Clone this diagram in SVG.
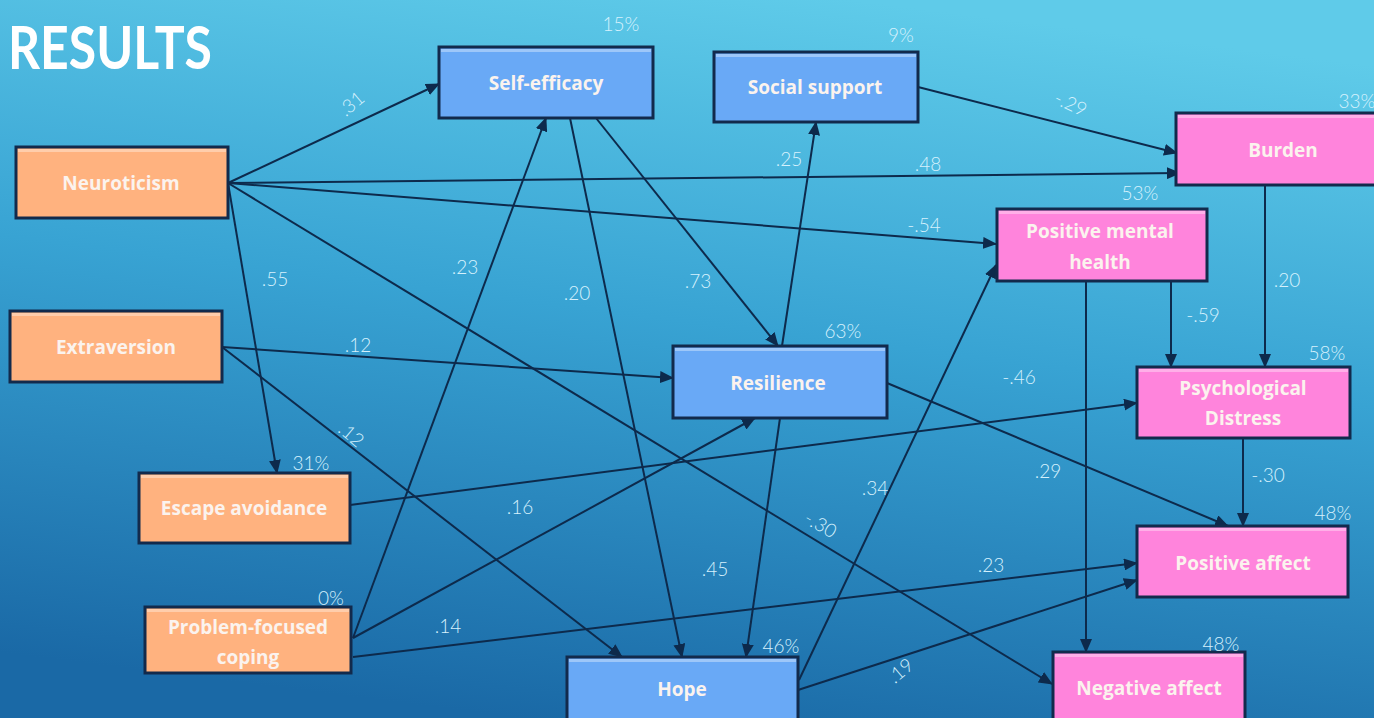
<svg xmlns="http://www.w3.org/2000/svg" width="1374" height="718" viewBox="0 0 1374 718">
<defs>
<linearGradient id="bg" x1="0.62" y1="0" x2="0.38" y2="1">
<stop offset="0" stop-color="#5fcbe9"/>
<stop offset="0.45" stop-color="#38a3d3"/>
<stop offset="1" stop-color="#1a69a6"/>
</linearGradient>
<marker id="ah" markerUnits="userSpaceOnUse" markerWidth="14" markerHeight="12" refX="13" refY="6" orient="auto">
<path d="M0,0 L14,6 L0,12 z" fill="#0d2a4c"/>
</marker>
<style>
.box{stroke:#122a4c;stroke-width:3}
.or{fill:#ffb27f}
.bl{fill:#69a9f6}
.pk{fill:#ff84dc}
.hl{fill:#ffffff;opacity:0.35}
.nt{font-family:"Open Sans","Liberation Sans",sans-serif;font-weight:bold;font-size:19px;fill:#fbf3ee;text-anchor:middle;dominant-baseline:central}
.el{font-family:Lato,"Open Sans","Liberation Sans",sans-serif;font-weight:300;font-size:19px;fill:#d6f1fd;text-anchor:middle;dominant-baseline:central}
.cn path{fill:none;stroke:#0d2a4c;stroke-width:2;marker-end:url(#ah)}
</style>
</defs>
<rect width="1374" height="718" fill="url(#bg)"/>
<text x="8" y="69" font-family="Lato,'Open Sans',sans-serif" font-weight="bold" font-size="60" fill="#ffffff" textLength="204" lengthAdjust="spacingAndGlyphs">RESULTS</text>

<g id="connectors" class="cn">
<path d="M228,183 L439,84"/>
<path d="M228,183 L1180,173"/>
<path d="M228,183 L996,244"/>
<path d="M228,183 L277,473"/>
<path d="M228,183 L1052,684"/>
<path d="M222,347 L673,378"/>
<path d="M222,347 L622,657"/>
<path d="M350,505 L1137,403"/>
<path d="M353,638 L546,118"/>
<path d="M353,638 L755,418"/>
<path d="M353,657 L1137,563"/>
<path d="M570,118 L682,657"/>
<path d="M596,118 L778,346"/>
<path d="M782,346 L816,122"/>
<path d="M918,87 L1177,153"/>
<path d="M780,418 L746,657"/>
<path d="M887,383 L1228,526"/>
<path d="M799,680 L996,265"/>
<path d="M798,690 L1137,580"/>
<path d="M1086,281 L1086,652"/>
<path d="M1171,281 L1171,367"/>
<path d="M1265,185 L1265,367"/>
<path d="M1243,438 L1243,526"/>
</g>

<g id="edge-labels">
<text class="el" x="351" y="103" transform="rotate(-40 351 103)">.31</text>
<text class="el" x="928" y="163">.48</text>
<text class="el" x="924" y="224">-.54</text>
<text class="el" x="275" y="278">.55</text>
<text class="el" x="821" y="524" transform="rotate(30 821 524)">-.30</text>
<text class="el" x="358" y="344">.12</text>
<text class="el" x="352" y="434" transform="rotate(40 352 434)">.12</text>
<text class="el" x="1019" y="376">-.46</text>
<text class="el" x="465" y="266">.23</text>
<text class="el" x="520" y="506">.16</text>
<text class="el" x="448" y="625">.14</text>
<text class="el" x="991" y="564">.23</text>
<text class="el" x="577" y="292">.20</text>
<text class="el" x="698" y="280">.73</text>
<text class="el" x="789" y="158">.25</text>
<text class="el" x="1071" y="103" transform="rotate(25 1071 103)">-.29</text>
<text class="el" x="715" y="568">.45</text>
<text class="el" x="1048" y="470">.29</text>
<text class="el" x="875" y="487">.34</text>
<text class="el" x="900" y="670" transform="rotate(-40 900 670)">.19</text>
<text class="el" x="1203" y="314">-.59</text>
<text class="el" x="1287" y="279">.20</text>
<text class="el" x="1268" y="474">-.30</text>
</g>

<g id="neuroticism">
<rect class="box or" x="16" y="147" width="212" height="71"/>
<rect class="hl" x="18" y="149" width="208" height="3"/>
<text class="nt" x="121" y="183">Neuroticism</text>
</g>
<g id="extraversion">
<rect class="box or" x="10" y="311" width="212" height="71"/>
<rect class="hl" x="12" y="313" width="208" height="3"/>
<text class="nt" x="116" y="347">Extraversion</text>
</g>
<g id="escape-avoidance">
<rect class="box or" x="139" y="473" width="211" height="70"/>
<rect class="hl" x="141" y="475" width="207" height="3"/>
<text class="nt" x="244" y="508">Escape avoidance</text>
<text class="el" x="311" y="462">31%</text>
</g>
<g id="problem-focused-coping">
<rect class="box or" x="145" y="607" width="206" height="66"/>
<rect class="hl" x="147" y="609" width="202" height="3"/>
<text class="nt" x="248" y="627">Problem-focused</text>
<text class="nt" x="248" y="657">coping</text>
<text class="el" x="331" y="597">0%</text>
</g>
<g id="self-efficacy">
<rect class="box bl" x="439" y="47" width="214" height="71"/>
<rect class="hl" x="441" y="49" width="210" height="3"/>
<text class="nt" x="546" y="83">Self-efficacy</text>
<text class="el" x="621" y="23">15%</text>
</g>
<g id="social-support">
<rect class="box bl" x="714" y="52" width="204" height="70"/>
<rect class="hl" x="716" y="54" width="200" height="3"/>
<text class="nt" x="815" y="87">Social support</text>
<text class="el" x="901" y="34">9%</text>
</g>
<g id="resilience">
<rect class="box bl" x="673" y="346" width="214" height="72"/>
<rect class="hl" x="675" y="348" width="210" height="3"/>
<text class="nt" x="778" y="383">Resilience</text>
<text class="el" x="843" y="330">63%</text>
</g>
<g id="hope">
<rect class="box bl" x="567" y="657" width="231" height="80"/>
<rect class="hl" x="569" y="659" width="227" height="3"/>
<text class="nt" x="682" y="689">Hope</text>
<text class="el" x="781" y="645">46%</text>
</g>
<g id="burden">
<rect class="box pk" x="1176" y="113" width="214" height="72"/>
<rect class="hl" x="1178" y="115" width="210" height="3"/>
<text class="nt" x="1283" y="150">Burden</text>
<text class="el" x="1357" y="100">33%</text>
</g>
<g id="positive-mental-health">
<rect class="box pk" x="997" y="209" width="210" height="72"/>
<rect class="hl" x="999" y="211" width="206" height="3"/>
<text class="nt" x="1100" y="231">Positive mental</text>
<text class="nt" x="1100" y="262">health</text>
<text class="el" x="1140" y="192">53%</text>
</g>
<g id="psychological-distress">
<rect class="box pk" x="1137" y="367" width="213" height="71"/>
<rect class="hl" x="1139" y="369" width="209" height="3"/>
<text class="nt" x="1243" y="388">Psychological</text>
<text class="nt" x="1243" y="418">Distress</text>
<text class="el" x="1327" y="352">58%</text>
</g>
<g id="positive-affect">
<rect class="box pk" x="1137" y="526" width="211" height="71"/>
<rect class="hl" x="1139" y="528" width="207" height="3"/>
<text class="nt" x="1243" y="563">Positive affect</text>
<text class="el" x="1333" y="512">48%</text>
</g>
<g id="negative-affect">
<rect class="box pk" x="1053" y="652" width="192" height="80"/>
<rect class="hl" x="1055" y="654" width="188" height="3"/>
<text class="nt" x="1149" y="688">Negative affect</text>
<text class="el" x="1221" y="643">48%</text>
</g>
</svg>
